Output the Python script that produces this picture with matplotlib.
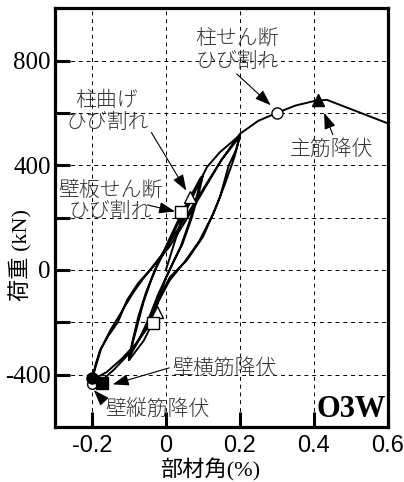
import numpy as np
import matplotlib.pyplot as plt

# 部材角 (%) と 荷重 (kN) の履歴ループ
drift = [0.0, 0.02, 0.04, 0.065, 0.087, 0.10,
         0.09, 0.07, 0.045, 0.02, 0.0, -0.02, -0.035, -0.06, -0.10,
         -0.09, -0.075, -0.06, -0.04, -0.02, 0.01, 0.04, 0.07, 0.095,
         0.085, 0.065, 0.04, 0.01, -0.02, -0.045, -0.07, -0.10,
         -0.09, -0.075, -0.055, -0.03, 0.0, 0.03, 0.065, 0.084, 0.111, 0.146, 0.20,
         0.19, 0.17, 0.146, 0.12, 0.10, 0.057, 0.011, -0.02, -0.05, -0.08, -0.12, -0.16, -0.20,
         -0.19, -0.178, -0.155, -0.13, -0.105, -0.075, -0.043, -0.01, 0.03, 0.07, 0.11, 0.15, 0.20,
         0.185, 0.16, 0.13, 0.09, 0.05, 0.01, -0.02, -0.05, -0.10, -0.14, -0.175, -0.20,
         -0.19, -0.175, -0.15, -0.12, -0.09, -0.06, -0.03, 0.01, 0.05, 0.10, 0.15, 0.20,
         0.25, 0.30, 0.35, 0.40, 0.435, 0.60]
load = [0, 90, 180, 265, 330, 360,
        300, 200, 100, 30, -30, -110, -200, -270, -345,
        -280, -200, -120, -40, 30, 120, 210, 290, 355,
        290, 190, 90, 0, -90, -180, -260, -335,
        -270, -180, -90, 0, 80, 170, 255, 316, 393, 450, 515,
        460, 400, 278, 190, 126, 38, -27, -110, -210, -280, -340, -390, -420,
        -360, -306, -250, -200, -115, -50, 0, 60, 150, 240, 330, 420, 510,
        430, 330, 220, 110, 30, -40, -120, -222, -320, -380, -425, -418,
        -370, -300, -230, -160, -90, -30, 20, 90, 180, 300, 420, 520,
        570, 600, 628, 645, 650, 560]

# 各イベント点
col_shear_crack = (0.30, 600)
main_bar_yield = (0.41, 650)
col_flex_crack = [(0.065, 278), (-0.024, -161)]
wall_shear_crack = [(0.04, 221), (-0.035, -203)]
wall_hbar_yield = (-0.173, -432)
wall_vbar_yield = (-0.20, -413)

xticks = [-0.2, 0, 0.2, 0.4, 0.6]
xticklabels = ['-0.2', '0', '0.2', '0.4', '0.6']
yticks = [-400, -200, 0, 200, 400, 600, 800]
yticklabels = ['-400', '', '0', '', '400', '', '800']

jp = ['Noto Sans CJK JP', 'DejaVu Sans']
serif_jp = ['Liberation Serif', 'Noto Sans CJK JP']

fig = plt.figure(figsize=(4.04, 4.82), dpi=100)
ax = fig.add_axes([0.136, 0.114, 0.824, 0.869])

ax.plot(drift, load, color='black', lw=1.4, zorder=3,
        solid_joinstyle='round')

# マーカー
ax.plot(*col_shear_crack, 'o', ms=8, mfc='white', mec='black', mew=1, zorder=5)
ax.plot(*main_bar_yield, '^', ms=9, mfc='black', mec='black', zorder=5)
for p in col_flex_crack:
    ax.plot(*p, '^', ms=9, mfc='white', mec='black', mew=1, zorder=5)
for p in wall_shear_crack:
    ax.plot(*p, 's', ms=8, mfc='white', mec='black', mew=1, zorder=5)
ax.plot(-0.20, -435, 'o', ms=7, mfc='white', mec='black', mew=1, zorder=4)
ax.plot(*wall_vbar_yield, 'o', ms=8, mfc='black', mec='black', zorder=5)
ax.plot(*wall_hbar_yield, 's', ms=9, mfc='black', mec='black', zorder=5)

ax.set_xlim(-0.3, 0.6)
ax.set_ylim(-600, 1000)
ax.set_xticks(xticks)
ax.set_xticklabels(xticklabels, fontfamily='Liberation Sans', fontsize=17)
ax.set_yticks(yticks)
ax.set_yticklabels(yticklabels, fontfamily='Liberation Serif', fontsize=18)
ax.tick_params(axis='both', direction='in', length=11, width=2.2)
ax.tick_params(axis='x', pad=6)
ax.tick_params(axis='y', pad=3)
ax.grid(True, ls=(0, (4, 4)), color='black', lw=0.7)
for s in ax.spines.values():
    s.set_linewidth(2.3)

ax.set_xlabel('部材角(%)', family=serif_jp, fontsize=16)
ax.xaxis.set_label_coords(0.465, -0.074)
ax.set_ylabel('荷重 (kN)', family=serif_jp, fontsize=16)
ax.yaxis.set_label_coords(-0.066, 0.41)

# 注記
tc = '#333333'
fw = 'light'
arrow = dict(arrowstyle='-|>,head_length=0.7,head_width=0.25', color='black',
             lw=0.8, mutation_scale=14)
ax.text(0.192, 840, '柱せん断\nひび割れ', family=jp, fontsize=15, color=tc,
        fontweight=fw, ha='center', va='center', linespacing=1.0)
ax.annotate('', xy=(0.289, 622), xytext=(0.186, 756), arrowprops=arrow)
ax.text(0.449, 462, '主筋降伏', family=jp, fontsize=15, color=tc,
        fontweight=fw, ha='center', va='center')
ax.annotate('', xy=(0.425, 610), xytext=(0.454, 507), arrowprops=arrow)
ax.text(-0.159, 607, '柱曲げ\nひび割れ', family=jp, fontsize=15, color=tc,
        fontweight=fw, ha='center', va='center', linespacing=1.0)
ax.annotate('', xy=(0.059, 294), xytext=(-0.043, 534), arrowprops=arrow)
ax.text(-0.151, 305, '壁板せん断', family=jp, fontsize=15, color=tc,
        fontweight=fw, ha='center', va='center')
ax.text(-0.151, 225, 'ひび割れ', family=jp, fontsize=15, color=tc,
        fontweight=fw, ha='center', va='center')
ax.annotate('', xy=(0.032, 221), xytext=(-0.057, 251), arrowprops=arrow)
ax.text(0.159, -375, '壁横筋降伏', family=jp, fontsize=15, color=tc,
        fontweight=fw, ha='center', va='center')
ax.annotate('', xy=(-0.151, -440), xytext=(0.016, -371), arrowprops=arrow)
ax.text(-0.024, -531, '壁縦筋降伏', family=jp, fontsize=15, color=tc,
        fontweight=fw, ha='center', va='center')
ax.annotate('', xy=(-0.2, -451), xytext=(-0.17, -497), arrowprops=arrow)

ax.text(0.595, -590, 'O3W', family='Liberation Serif', fontweight='bold',
        fontsize=22, ha='right', va='bottom')

fig.savefig('out.png', dpi=100)
